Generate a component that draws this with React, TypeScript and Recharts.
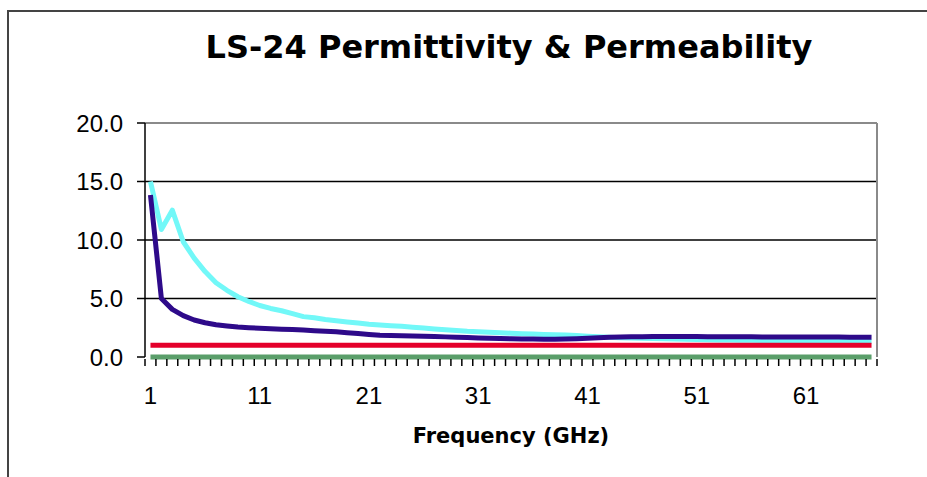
import { LineChart, Line, XAxis, YAxis, CartesianGrid, ReferenceLine } from "recharts";

// frequency categories (GHz)
const freqs = [
  1, 2, 3, 4, 5, 6, 7, 8, 9, 10, 11, 12, 13, 14, 15, 16, 17, 18, 19, 20,
  21, 22, 23, 24, 25, 26, 27, 28, 29, 30, 31, 32, 33, 34, 35, 36, 37, 38, 39, 40,
  41, 42, 43, 44, 45, 46, 47, 48, 49, 50, 51, 52, 53, 54, 55, 56, 57, 58, 59, 60,
  61, 62, 63, 64, 65, 66, 67,
];

const cyanSeries = [
  15.0, 10.9, 12.55, 9.85, 8.45, 7.3, 6.35, 5.7, 5.15, 4.75,
  4.4, 4.15, 3.95, 3.7, 3.45, 3.35, 3.2, 3.1, 3.0, 2.9,
  2.8, 2.73, 2.68, 2.62, 2.55, 2.47, 2.4, 2.33, 2.27, 2.2,
  2.16, 2.11, 2.07, 2.03, 1.99, 1.96, 1.93, 1.9, 1.87, 1.83,
  1.78, 1.73, 1.69, 1.65, 1.62, 1.6, 1.58, 1.56, 1.54, 1.52,
  1.49, 1.48, 1.46, 1.45, 1.44, 1.43, 1.42, 1.41, 1.4, 1.39,
  1.38, 1.37, 1.36, 1.35, 1.34, 1.33, 1.32,
];

const purpleSeries = [
  13.85, 5.0, 4.07, 3.53, 3.16, 2.93, 2.76, 2.65, 2.56, 2.5,
  2.46, 2.42, 2.38, 2.34, 2.3, 2.25, 2.2, 2.16, 2.08, 2.0,
  1.92, 1.85, 1.83, 1.81, 1.8, 1.78, 1.75, 1.72, 1.69, 1.66,
  1.63, 1.6, 1.58, 1.56, 1.54, 1.53, 1.52, 1.52, 1.53, 1.56,
  1.6, 1.64, 1.68, 1.71, 1.73, 1.74, 1.75, 1.75, 1.75, 1.75,
  1.75, 1.74, 1.74, 1.74, 1.73, 1.73, 1.72, 1.72, 1.72, 1.71,
  1.71, 1.7, 1.7, 1.7, 1.69, 1.69, 1.68,
];

const redSeries = [
  1, 1, 1, 1, 1, 1, 1, 1, 1, 1, 1, 1, 1, 1, 1, 1, 1, 1, 1, 1,
  1, 1, 1, 1, 1, 1, 1, 1, 1, 1, 1, 1, 1, 1, 1, 1, 1, 1, 1, 1,
  1, 1, 1, 1, 1, 1, 1, 1, 1, 1, 1, 1, 1, 1, 1, 1, 1, 1, 1, 1,
  1, 1, 1, 1, 1, 1, 1,
];

const greenSeries = [
  0, 0, 0, 0, 0, 0, 0, 0, 0, 0, 0, 0, 0, 0, 0, 0, 0, 0, 0, 0,
  0, 0, 0, 0, 0, 0, 0, 0, 0, 0, 0, 0, 0, 0, 0, 0, 0, 0, 0, 0,
  0, 0, 0, 0, 0, 0, 0, 0, 0, 0, 0, 0, 0, 0, 0, 0, 0, 0, 0, 0,
  0, 0, 0, 0, 0, 0, 0,
];

const xLabels = [1, 11, 21, 31, 41, 51, 61];
const yTicks = [5, 10, 15, 20];
const yLabelTicks = [0, 5, 10, 15, 20];

const data = freqs.map((f, i) => ({
  freq: f,
  cyan: cyanSeries[i],
  purple: purpleSeries[i],
  red: redSeries[i],
  green: greenSeries[i],
}));

// tick marks sit on the category boundaries, labels on the category centres
const boundaries = [freqs[0] - 0.5, ...freqs.map((f) => f + 0.5)];
const xTicks = [...boundaries, ...xLabels];

const XTick = (props: any) => {
  const { x, y, payload } = props;
  const v = payload.value;
  if (Number.isInteger(v)) {
    return (
      <text x={x} y={y + 47} textAnchor="middle" fontFamily="Liberation Sans" fontSize={24} fill="#000">
        {v}
      </text>
    );
  }
  return <line x1={x} y1={y + 2} x2={x} y2={y + 9} stroke="#000" strokeWidth={1.5} />;
};

function App() {
  return (
    <div style={{ position: "fixed", left: 0, top: 0, width: 927, height: 477, overflow: "hidden", background: "#fff" }}>
      <div
        style={{
          position: "absolute",
          left: 7,
          top: 10,
          width: 1000,
          height: 600,
          borderLeft: "2px solid #444",
          borderTop: "2px solid #444",
        }}
      />
      <div
        style={{
          position: "absolute",
          left: 0,
          width: 1018,
          top: 31,
          textAlign: "center",
          fontFamily: "DejaVu Sans",
          fontWeight: "bold",
          fontSize: 32,
          lineHeight: "32px",
          color: "#000",
        }}
      >
        LS-24 Permittivity &amp; Permeability
      </div>
      <div style={{ position: "absolute", left: 0, top: 0 }}>
        <LineChart width={927} height={477} data={data} margin={{ top: 123, right: 50, bottom: 20, left: 85 }}>
          <CartesianGrid horizontal vertical={false} stroke="#000" strokeWidth={1.5} horizontalValues={yTicks} />
          <XAxis
            dataKey="freq"
            type="number"
            domain={[0.5, 67.5]}
            ticks={xTicks}
            interval={0}
            tick={<XTick />}
            tickLine={false}
            tickSize={0}
            tickMargin={0}
            height={100}
            axisLine={false}
            label={{
              value: "Frequency (GHz)",
              position: "insideBottom",
              offset: 14,
              style: { fontFamily: "DejaVu Sans", fontWeight: "bold", fontSize: 21, fill: "#000" },
            }}
          />
          <YAxis
            domain={[0, 20]}
            ticks={yLabelTicks}
            width={60}
            tickSize={8}
            tickMargin={14}
            tickFormatter={(v: number) => v.toFixed(1)}
            tick={{ fontFamily: "Liberation Sans", fontSize: 24, fill: "#000" }}
            tickLine={{ stroke: "#000", strokeWidth: 1.5 }}
            axisLine={{ stroke: "#000", strokeWidth: 1.5 }}
          />
          <ReferenceLine y={20} stroke="#8a8a8a" strokeWidth={2} />
          <ReferenceLine x={67.5} stroke="#8a8a8a" strokeWidth={2} />
          <Line type="linear" dataKey="cyan" stroke="#72f8f8" strokeWidth={5} dot={false} isAnimationActive={false} strokeLinejoin="round" />
          <Line type="linear" dataKey="purple" stroke="#2e0a8a" strokeWidth={5} dot={false} isAnimationActive={false} strokeLinejoin="round" />
          <Line type="linear" dataKey="red" stroke="#e4002b" strokeWidth={5} dot={false} isAnimationActive={false} />
          <Line type="linear" dataKey="green" stroke="#5a9e6a" strokeWidth={5} dot={false} isAnimationActive={false} />
        </LineChart>
      </div>
    </div>
  );
}

export default App;
